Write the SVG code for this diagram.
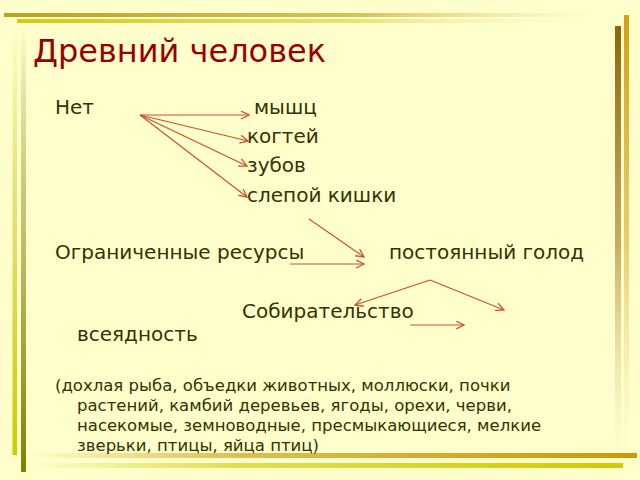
<svg xmlns="http://www.w3.org/2000/svg" width="640" height="480" viewBox="0 0 640 480">
  <style>
    .title { font-family: "DejaVu Sans", "Liberation Sans", sans-serif; font-size: 32px; fill: #990000; }
    .t { font-family: "DejaVu Sans", "Liberation Sans", sans-serif; font-size: 20px; fill: #333300; }
    .s { font-family: "DejaVu Sans", "Liberation Sans", sans-serif; font-size: 16.5px; fill: #333300; }
    .arr { stroke: #D0502A; stroke-width: 1.2; fill: none; marker-end: url(#ah); }
  </style>
  <defs>
    <marker id="ah" markerUnits="userSpaceOnUse" markerWidth="10" markerHeight="10" refX="9" refY="4.5" orient="auto">
      <path d="M1,0.5 L9,4.5 L1,8.5" fill="none" stroke="#D0502A" stroke-width="1.3"/>
    </marker>
    <linearGradient id="gTop1" x1="0" y1="0" x2="1" y2="0">
      <stop offset="0" stop-color="#C0A020"/>
      <stop offset="0.6" stop-color="#D0B040" stop-opacity="0.8"/>
      <stop offset="1" stop-color="#E8D890" stop-opacity="0"/>
    </linearGradient>
    <linearGradient id="gTop2" x1="0" y1="0" x2="1" y2="0">
      <stop offset="0" stop-color="#CCCC10"/>
      <stop offset="0.6" stop-color="#D8D850" stop-opacity="0.7"/>
      <stop offset="1" stop-color="#F0F0B0" stop-opacity="0"/>
    </linearGradient>
    <linearGradient id="gLeft1" x1="0" y1="0" x2="0" y2="1">
      <stop offset="0" stop-color="#CCCC00" stop-opacity="0"/>
      <stop offset="0.4" stop-color="#D0D040" stop-opacity="0.6"/>
      <stop offset="1" stop-color="#CCCC00"/>
    </linearGradient>
    <linearGradient id="gLeft2" x1="0" y1="0" x2="0" y2="1">
      <stop offset="0" stop-color="#808000" stop-opacity="0"/>
      <stop offset="0.4" stop-color="#A0A040" stop-opacity="0.6"/>
      <stop offset="1" stop-color="#808000"/>
    </linearGradient>
    <linearGradient id="gRight1" x1="0" y1="0" x2="0" y2="1">
      <stop offset="0" stop-color="#8B6508"/>
      <stop offset="0.5" stop-color="#B08830" stop-opacity="0.7"/>
      <stop offset="1" stop-color="#E0D090" stop-opacity="0"/>
    </linearGradient>
    <linearGradient id="gRight2" x1="0" y1="0" x2="0" y2="1">
      <stop offset="0" stop-color="#D4A010"/>
      <stop offset="0.5" stop-color="#DDB840" stop-opacity="0.7"/>
      <stop offset="1" stop-color="#F0E0A0" stop-opacity="0"/>
    </linearGradient>
    <linearGradient id="gBot1" x1="0" y1="0" x2="1" y2="0">
      <stop offset="0" stop-color="#CC9900" stop-opacity="0"/>
      <stop offset="0.35" stop-color="#D0A020" stop-opacity="0.7"/>
      <stop offset="1" stop-color="#CC9900"/>
    </linearGradient>
    <linearGradient id="gBot2" x1="0" y1="0" x2="1" y2="0">
      <stop offset="0" stop-color="#CCCC00" stop-opacity="0"/>
      <stop offset="0.35" stop-color="#D0D020" stop-opacity="0.7"/>
      <stop offset="1" stop-color="#CCCC00"/>
    </linearGradient>
  </defs>

  <rect x="0" y="0" width="640" height="480" fill="#FFFFCC"/>

  <g id="frame">
    <rect x="4" y="13" width="596" height="4" fill="url(#gTop1)"/>
    <rect x="17" y="19" width="560" height="4" fill="url(#gTop2)"/>
    <rect x="12.5" y="25" width="4.5" height="430" fill="url(#gLeft1)"/>
    <rect x="21" y="25" width="5" height="447" fill="url(#gLeft2)"/>
    <rect x="615" y="26" width="6" height="434" fill="url(#gRight1)"/>
    <rect x="624" y="15" width="5" height="445" fill="url(#gRight2)"/>
    <rect x="30" y="453" width="607" height="5" fill="url(#gBot1)"/>
    <rect x="30" y="463" width="593" height="5" fill="url(#gBot2)"/>
  </g>

  <g id="title">
    <text class="title" x="33" y="62">Древний человек</text>
  </g>

  <g id="node-net"><text class="t" x="55" y="114">Нет</text></g>
  <g id="node-myshts"><text class="t" x="254" y="114">мышц</text></g>
  <g id="node-kogtei"><text class="t" x="247" y="143">когтей</text></g>
  <g id="node-zubov"><text class="t" x="247" y="172">зубов</text></g>
  <g id="node-slepoi"><text class="t" x="247" y="202">слепой кишки</text></g>
  <g id="node-resursy"><text class="t" x="55" y="259">Ограниченные ресурсы</text></g>
  <g id="node-golod"><text class="t" x="389" y="259">постоянный голод</text></g>
  <g id="node-sobir"><text class="t" x="242" y="318">Собирательство</text></g>
  <g id="node-vseyad"><text class="t" x="77" y="341">всеядность</text></g>
  <g id="node-list">
    <text class="s" x="55" y="391">(дохлая рыба, объедки животных, моллюски, почки</text>
    <text class="s" x="77" y="411">растений, камбий деревьев, ягоды, орехи, черви,</text>
    <text class="s" x="77" y="431">насекомые, земноводные, пресмыкающиеся, мелкие</text>
    <text class="s" x="77" y="451">зверьки, птицы, яйца птиц)</text>
  </g>

  <g id="connectors">
    <line class="arr" x1="140" y1="115" x2="249" y2="115"/>
    <line class="arr" x1="140" y1="115" x2="248" y2="141"/>
    <line class="arr" x1="140" y1="115" x2="247" y2="166"/>
    <line class="arr" x1="140" y1="115" x2="247" y2="197"/>
    <line class="arr" x1="309" y1="219" x2="364" y2="257"/>
    <line class="arr" x1="290" y1="264" x2="364" y2="264"/>
    <line class="arr" x1="430" y1="280" x2="355" y2="305"/>
    <line class="arr" x1="430" y1="280" x2="504" y2="310"/>
    <line class="arr" x1="410" y1="325" x2="464" y2="325"/>
  </g>
</svg>
